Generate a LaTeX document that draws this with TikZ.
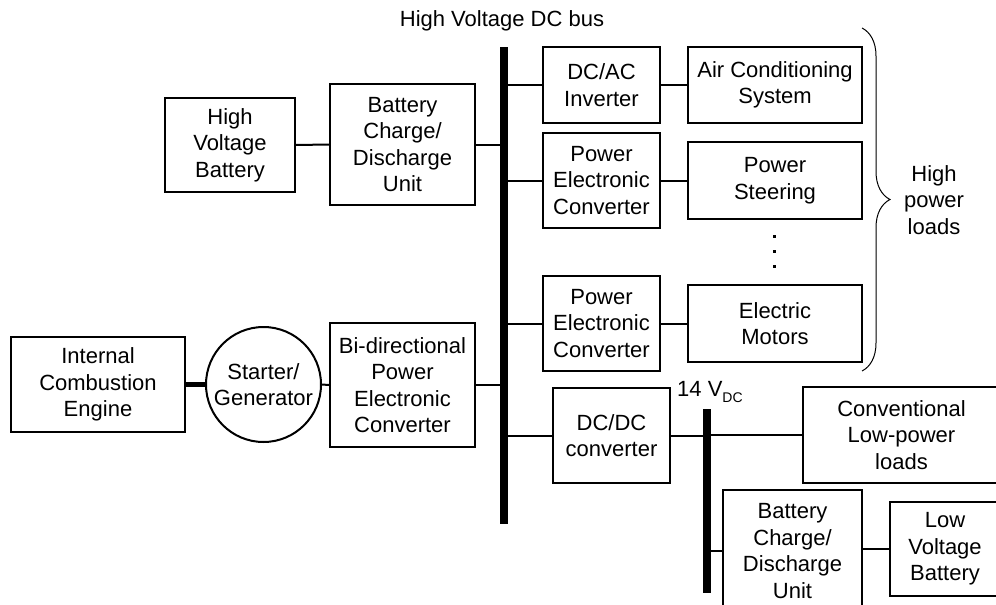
\documentclass[tikz,border=0pt]{standalone}
\usepackage{fontspec}
\setmainfont{Liberation Sans}
\usetikzlibrary{decorations.pathreplacing}

\begin{document}
\begin{tikzpicture}[
    x=1pt, y=-1pt,
    font=\fontsize{22}{26.5}\selectfont,
    unit/.style={
        draw=black,
        line width=2pt,
        inner sep=0pt,
        align=center,
        text centered
    },
    machine/.style={
        unit,
        circle,
        minimum size=115pt
    },
    busbar/.style={
        fill=black,
        inner sep=0pt,
        minimum width=8pt
    },
    wire/.style={line width=2pt},
    shaft/.style={line width=5pt}
]

\useasboundingbox (0,0) rectangle (996,605);
\clip (0,0) rectangle (996,605);

% --- Buses ---
\node[busbar, minimum height=477pt] (hvbus) at (504,285.5) {};
\node[busbar, minimum height=184pt] (lvbus) at (707,501) {};
\node[anchor=base] (hvlbl) at (502,26) {High Voltage DC bus};
\node[anchor=base west, inner sep=0pt] (lvlbl) at (677,396)
    {14 V\raisebox{-6pt}{\fontsize{14}{14}\selectfont DC}};

% --- Sources (left) ---
\node[unit, minimum width=130pt, minimum height=94pt]  (hvbat) at (230,145)   {High\\Voltage\\Battery};
\node[unit, minimum width=145pt, minimum height=121pt] (bcdu)  at (402.5,144.5) {Battery\\Charge/\\Discharge\\Unit};
\node[unit, minimum width=174pt, minimum height=95pt]  (ice)   at (98,384.5)  {Internal\\Combustion\\Engine};
\node[machine]                                         (sg)    at (263.5,384.5) {Starter/\\Generator};
\node[unit, minimum width=145pt, minimum height=124pt] (bidir) at (402.5,385) {Bi-directional\\Power\\Electronic\\Converter};

% --- High power loads (right of HV bus) ---
\node[unit, minimum width=117pt, minimum height=76pt] (dcac)   at (601.5,85)    {DC/AC\\Inverter};
\node[unit, minimum width=174pt, minimum height=76pt] (aircon) at (775,85)      {Air Conditioning\\System};
\node[unit, minimum width=117pt, minimum height=95pt] (pecA)   at (601.5,180.5) {Power\\Electronic\\Converter};
\node[unit, minimum width=174pt, minimum height=77pt] (steer)  at (775,180.5)   {Power\\Steering};
\node[unit, minimum width=117pt, minimum height=95pt] (pecB)   at (601.5,323.5) {Power\\Electronic\\Converter};
\node[unit, minimum width=174pt, minimum height=77pt] (motors) at (775,323.5)   {Electric\\Motors};
\foreach \dy in {236,251,266}
    \fill (772.5,\dy-1.5) rectangle ++(3,3);

\draw[decorate, decoration={brace, amplitude=28pt}, line width=1pt] (862,28) -- (862,371);
\node[align=center] (hpl) at (934,200) {High\\power\\loads};

% --- Low voltage side ---
\node[unit, minimum width=117pt, minimum height=95pt]  (dcdc)  at (611.5,435.5) {DC/DC\\converter};
\node[unit, minimum width=197pt, minimum height=96pt]  (conv)  at (901.5,435)   {Conventional\\Low-power\\loads};
\node[unit, minimum width=139pt, minimum height=122pt] (bcduB) at (792.5,551)   {Battery\\Charge/\\Discharge\\Unit};
\node[unit, minimum width=110pt, minimum height=94pt]  (lvbat) at (945,549)     {Low\\Voltage\\Battery};

% --- Connections ---
\draw[wire]  (hvbat.east) -- (bcdu.west);
\draw[wire]  (bcdu.east) -- (bcdu.east -| hvbus.west);
\draw[shaft] (ice.east) -- (sg.west);
\draw[wire]  (sg.east) -- (bidir.west);
\draw[wire]  (bidir.east) -- (bidir.east -| hvbus.west);

\draw[wire] (dcac.west -| hvbus.east) -- (dcac.west);
\draw[wire] (dcac.east) -- (aircon.west);
\draw[wire] (pecA.west -| hvbus.east) -- (pecA.west);
\draw[wire] (pecA.east) -- (steer.west);
\draw[wire] (pecB.west -| hvbus.east) -- (pecB.west);
\draw[wire] (pecB.east) -- (motors.west);

\draw[wire] (dcdc.west -| hvbus.east) -- (dcdc.west);
\draw[wire] (dcdc.east) -- (dcdc.east -| lvbus.west);
\draw[wire] (conv.west -| lvbus.east) -- (conv.west);
\draw[wire] (bcduB.west -| lvbus.east) -- (bcduB.west);
\draw[wire] (bcduB.east |- lvbat.west) -- (lvbat.west);

\end{tikzpicture}
\end{document}
